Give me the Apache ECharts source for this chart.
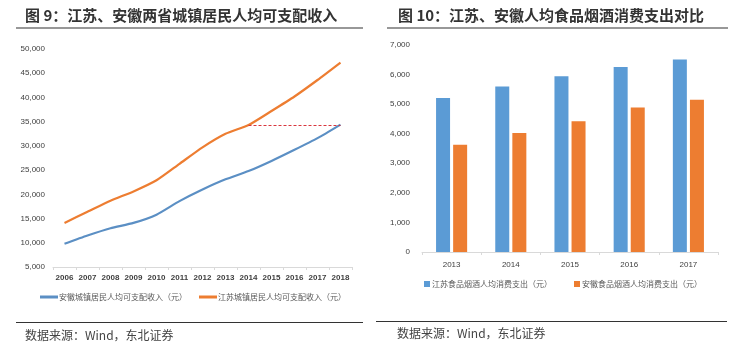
<!DOCTYPE html>
<html>
<head>
<meta charset="utf-8">
<script src="https://cdn.jsdelivr.net/npm/echarts@6/dist/echarts.min.js"></script>
<style>
  html, body { margin: 0; padding: 0; background: #fff; }
  #main { width: 750px; height: 352px; }
</style>
</head>
<body>
<div id="main"></div>
<script>
// 图9 城镇居民人均可支配收入
var years = ['2006', '2007', '2008', '2009', '2010', '2011', '2012', '2013', '2014', '2015', '2016', '2017', '2018']
var anhuiIncome = [9800, 11500, 13000, 14100, 15800, 18600, 21000, 23100, 24800, 26900, 29200, 31600, 34400]
var jiangsuIncome = [14100, 16400, 18700, 20600, 22900, 26300, 29700, 32500, 34300, 37200, 40200, 43600, 47200]

// 图10 食品烟酒人均消费支出
var barYears = ['2013', '2014', '2015', '2016', '2017']
var jiangsuFood = [5210, 5600, 5940, 6260, 6510]
var anhuiFood = [3630, 4020, 4420, 4890, 5150]

var cjk = '"Noto Sans CJK SC", sans-serif'
var numFont = '"Liberation Sans", "Noto Sans", sans-serif'
var blue = '#5b8fc4'
var orange = '#ed7d31'
var barBlue = '#5b9bd5'

function thousands(v) {
  return String(v).replace(/\B(?=(\d{3})+(?!\d))/g, ',')
}

var chart = echarts.init(document.getElementById('main'))

chart.setOption({
  animation: false,
  backgroundColor: '#fff',
  textStyle: { fontFamily: cjk },
  title: [{
    text: '图 9：江苏、安徽两省城镇居民人均可支配收入',
    left: 25,
    top: 8,
    padding: 0,
    textStyle: { fontSize: 15, fontWeight: 'bold', color: '#333', fontFamily: cjk }
  }, {
    text: '图 10：江苏、安徽人均食品烟酒消费支出对比',
    left: 398,
    top: 8,
    padding: 0,
    textStyle: { fontSize: 15, fontWeight: 'bold', color: '#333', fontFamily: cjk }
  }, {
    text: '数据来源：Wind，东北证券',
    left: 25,
    top: 329,
    padding: 0,
    textStyle: { fontSize: 12, fontWeight: 'normal', color: '#444', fontFamily: cjk }
  }, {
    text: '数据来源：Wind，东北证券',
    left: 397,
    top: 327,
    padding: 0,
    textStyle: { fontSize: 12, fontWeight: 'normal', color: '#444', fontFamily: cjk }
  }],
  graphic: [
    { type: 'line', shape: { x1: 16, y1: 28, x2: 363, y2: 28 }, style: { stroke: '#333', lineWidth: 1.2 } },
    { type: 'line', shape: { x1: 387, y1: 28, x2: 728, y2: 28 }, style: { stroke: '#333', lineWidth: 1.2 } },
    { type: 'line', shape: { x1: 16, y1: 322.5, x2: 363, y2: 322.5 }, style: { stroke: '#333', lineWidth: 1.2 } },
    { type: 'line', shape: { x1: 376, y1: 321.5, x2: 727, y2: 321.5 }, style: { stroke: '#333', lineWidth: 1.2 } }
  ],
  legend: [{
    data: ['安徽城镇居民人均可支配收入（元）', '江苏城镇居民人均可支配收入（元）'],
    left: 40,
    top: 293,
    padding: 0,
    icon: 'rect',
    itemWidth: 18,
    itemHeight: 3,
    itemGap: 12,
    textStyle: { fontSize: 8, color: '#595959', padding: [0, 0, 0, -4] }
  }, {
    data: ['江苏食品烟酒人均消费支出（元）', '安徽食品烟酒人均消费支出（元）'],
    left: 424,
    top: 280,
    padding: 0,
    icon: 'rect',
    itemWidth: 6,
    itemHeight: 6,
    itemGap: 22,
    textStyle: { fontSize: 8, color: '#595959', padding: [0, 0, 0, -3] }
  }],
  grid: [{
    left: 53,
    right: 398,
    top: 49,
    bottom: 85
  }, {
    left: 422,
    right: 32,
    top: 45,
    bottom: 100
  }],
  xAxis: [{
    gridIndex: 0,
    type: 'category',
    data: years,
    axisLine: { lineStyle: { color: '#d9d9d9' } },
    axisTick: { show: true, length: 3, lineStyle: { color: '#d9d9d9' } },
    axisLabel: { fontSize: 8, color: '#404040', fontFamily: numFont, fontWeight: 'bold', margin: 7, interval: 0 }
  }, {
    gridIndex: 1,
    type: 'category',
    data: barYears,
    axisLine: { lineStyle: { color: '#d9d9d9' } },
    axisTick: { show: true, length: 3, lineStyle: { color: '#d9d9d9' } },
    axisLabel: { fontSize: 8, color: '#404040', fontFamily: numFont, margin: 9 }
  }],
  yAxis: [{
    gridIndex: 0,
    type: 'value',
    min: 5000,
    max: 50000,
    interval: 5000,
    axisLine: { show: false },
    axisTick: { show: false },
    splitLine: { show: false },
    axisLabel: { fontSize: 8, color: '#404040', fontFamily: numFont, margin: 8, formatter: thousands }
  }, {
    gridIndex: 1,
    type: 'value',
    min: 0,
    max: 7000,
    interval: 1000,
    axisLine: { show: false },
    axisTick: { show: false },
    splitLine: { show: false },
    axisLabel: { fontSize: 8, color: '#404040', fontFamily: numFont, margin: 12, formatter: thousands }
  }],
  series: [{
    name: '安徽城镇居民人均可支配收入（元）',
    type: 'line',
    xAxisIndex: 0,
    yAxisIndex: 0,
    data: anhuiIncome,
    smooth: 0.2,
    showSymbol: false,
    itemStyle: { color: blue },
    lineStyle: { color: blue, width: 2.2 }
  }, {
    name: '江苏城镇居民人均可支配收入（元）',
    type: 'line',
    xAxisIndex: 0,
    yAxisIndex: 0,
    data: jiangsuIncome,
    smooth: 0.2,
    showSymbol: false,
    itemStyle: { color: orange },
    lineStyle: { color: orange, width: 2.2 },
    markLine: {
      silent: true,
      symbol: 'none',
      label: { show: false },
      lineStyle: { color: '#d9363e', type: [3, 2], width: 1 },
      data: [[
        { coord: ['2014', jiangsuIncome[8]] },
        { coord: ['2018', jiangsuIncome[8]] }
      ]]
    }
  }, {
    name: '江苏食品烟酒人均消费支出（元）',
    type: 'bar',
    xAxisIndex: 1,
    yAxisIndex: 1,
    data: jiangsuFood,
    barWidth: 14,
    barGap: '22%',
    itemStyle: { color: barBlue }
  }, {
    name: '安徽食品烟酒人均消费支出（元）',
    type: 'bar',
    xAxisIndex: 1,
    yAxisIndex: 1,
    data: anhuiFood,
    barWidth: 14,
    barGap: '22%',
    itemStyle: { color: orange }
  }]
})
</script>
</body>
</html>
